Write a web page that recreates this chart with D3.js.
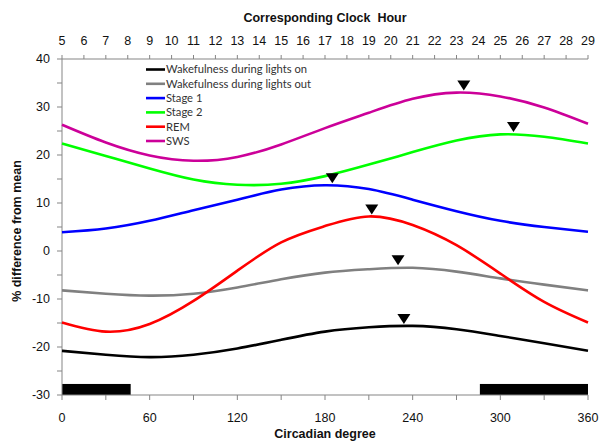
<!DOCTYPE html>
<html>
<head>
    <script src="https://cdnjs.cloudflare.com/ajax/libs/d3/7.8.5/d3.min.js"></script>
    <style>
        body { margin: 0; background: #fff; }
        svg { display: block; }
        .tick-label { font-family: "Liberation Sans", Arial, sans-serif; font-size: 12.5px; fill: #111; }
        .axis-title { font-family: "Liberation Sans", Arial, sans-serif; font-size: 12.5px; font-weight: bold; fill: #111; white-space: pre; }
        .legend-text { font-family: Lato, "Open Sans", sans-serif; font-size: 11.2px; fill: #333; }
    </style>
</head>
<body>
<svg id="chart"></svg>
<script>
    // circadian degrees sampled every 30
    const degrees = [0, 30, 60, 90, 120, 150, 180, 210, 240, 270, 300, 330, 360];

    const wakeLightsOn  = [-20.8, -21.6, -22.1, -21.6, -20.3, -18.5, -16.8, -15.9, -15.6, -16.3, -17.7, -19.2, -20.8];
    const wakeLightsOut = [-8.2, -8.9, -9.3, -8.9, -7.6, -5.9, -4.5, -3.8, -3.5, -4.3, -5.7, -7.0, -8.2];
    const stage1 = [3.9, 4.7, 6.3, 8.5, 10.7, 12.8, 13.7, 12.9, 10.7, 8.3, 6.3, 5.0, 4.0];
    const stage2 = [22.4, 19.8, 17.2, 14.9, 13.8, 14.0, 15.6, 18.0, 20.6, 23.0, 24.3, 23.8, 22.4];
    const rem    = [-14.9, -16.8, -15.2, -10.4, -4.1, 1.8, 5.2, 7.2, 5.4, 1.2, -4.7, -10.6, -14.9];
    const sws    = [26.3, 22.6, 19.9, 18.8, 19.6, 22.2, 25.6, 28.8, 31.7, 33.0, 32.2, 29.9, 26.5];

    const seriesNames = ["Wakefulness during lights on", "Wakefulness during lights out", "Stage 1", "Stage 2", "REM", "SWS"];
    const seriesColors = ["#000000", "#808080", "#0000ff", "#00ff00", "#ff0000", "#cc0099"];
    const seriesValues = [wakeLightsOn, wakeLightsOut, stage1, stage2, rem, sws];

    // acrophase markers (degree, value)
    const peakDegrees = [234, 230, 185, 309, 212, 275];
    const peakValues = [-15.6, -3.4, 13.7, 24.4, 7.2, 33.0];

    // lights-off periods
    const darkPeriods = [[0, 47], [286, 360]];

    const degreeTicks = [0, 30, 60, 90, 120, 150, 180, 210, 240, 270, 300, 330, 360];
    const degreeLabels = [0, 60, 120, 180, 240, 300, 360];
    const clockHours = d3.range(5, 30);
    const yTicks = [-30, -25, -20, -15, -10, -5, 0, 5, 10, 15, 20, 25, 30, 35, 40];
    const yLabels = [-30, -20, -10, 0, 10, 20, 30, 40];

    const width = 601, height = 441;
    const margin = {left: 62, right: 13, top: 59, bottom: 46};

    const svg = d3.select("#chart").attr("width", width).attr("height", height);

    const x = d3.scaleLinear().domain([0, 360]).range([margin.left, width - margin.right]);
    const xHour = d3.scaleLinear().domain([5, 29]).range([margin.left, width - margin.right]);
    const y = d3.scaleLinear().domain([-30, 40]).range([height - margin.bottom, margin.top]);

    const axisColor = "#858585";

    // dark bars
    svg.append("g").selectAll("rect")
        .data(darkPeriods)
        .enter().append("rect")
        .attr("x", d => x(d[0]))
        .attr("width", d => x(d[1]) - x(d[0]))
        .attr("y", y(-27.7))
        .attr("height", y(-30) - y(-27.7))
        .attr("fill", "#000");

    // left axis
    const gy = svg.append("g");
    gy.append("line")
        .attr("x1", x(0)).attr("x2", x(0))
        .attr("y1", y(-30)).attr("y2", y(40))
        .attr("stroke", axisColor);
    gy.selectAll("line.t").data(yTicks).enter().append("line")
        .attr("class", "t")
        .attr("x1", x(0) - 5).attr("x2", x(0))
        .attr("y1", d => y(d)).attr("y2", d => y(d))
        .attr("stroke", axisColor);
    gy.selectAll("text").data(yLabels).enter().append("text")
        .attr("class", "tick-label")
        .attr("x", x(0) - 12)
        .attr("y", d => y(d))
        .attr("dy", "0.35em")
        .attr("text-anchor", "end")
        .text(d => d);

    // bottom axis
    const gx = svg.append("g");
    gx.append("line")
        .attr("x1", x(0)).attr("x2", x(360))
        .attr("y1", y(-30)).attr("y2", y(-30))
        .attr("stroke", axisColor);
    gx.selectAll("line.t").data(degreeTicks).enter().append("line")
        .attr("class", "t")
        .attr("x1", d => x(d)).attr("x2", d => x(d))
        .attr("y1", y(-30)).attr("y2", y(-30) + 5)
        .attr("stroke", axisColor);
    gx.selectAll("text").data(degreeLabels).enter().append("text")
        .attr("class", "tick-label")
        .attr("x", d => x(d))
        .attr("y", y(-30) + 27)
        .attr("text-anchor", "middle")
        .text(d => d);

    // top axis (clock hour)
    const gt = svg.append("g");
    gt.append("line")
        .attr("x1", x(0)).attr("x2", x(360))
        .attr("y1", y(40)).attr("y2", y(40))
        .attr("stroke", axisColor);
    gt.selectAll("line.t").data(clockHours).enter().append("line")
        .attr("class", "t")
        .attr("x1", d => xHour(d)).attr("x2", d => xHour(d))
        .attr("y1", y(40)).attr("y2", y(40) - 4)
        .attr("stroke", axisColor);
    gt.selectAll("text").data(clockHours).enter().append("text")
        .attr("class", "tick-label")
        .attr("x", d => xHour(d))
        .attr("y", y(40) - 14)
        .attr("text-anchor", "middle")
        .text(d => d);

    // titles
    svg.append("text").attr("class", "axis-title")
        .attr("x", (x(0) + x(360)) / 2).attr("y", 22)
        .attr("text-anchor", "middle")
        .text("Corresponding Clock  Hour");
    svg.append("text").attr("class", "axis-title")
        .attr("x", (x(0) + x(360)) / 2).attr("y", 438)
        .attr("text-anchor", "middle")
        .text("Circadian degree");
    svg.append("text").attr("class", "axis-title")
        .attr("transform", "translate(21," + 231 + ") rotate(-90)")
        .attr("text-anchor", "middle")
        .text("% difference from mean");

    // curves
    const line = d3.line()
        .x((d, i) => x(degrees[i]))
        .y(d => y(d))
        .curve(d3.curveNatural);

    svg.append("g").selectAll("path")
        .data(seriesValues)
        .enter().append("path")
        .attr("d", d => line(d))
        .attr("fill", "none")
        .attr("stroke", (d, i) => seriesColors[i])
        .attr("stroke-width", 2.6);

    // peak markers
    svg.append("g").selectAll("path")
        .data(peakDegrees)
        .enter().append("path")
        .attr("transform", (d, i) => "translate(" + x(d) + "," + (y(peakValues[i]) - 2) + ")")
        .attr("d", "M-6.5,-10L6.5,-10L0,0Z")
        .attr("fill", "#000");

    // legend
    const legend = svg.append("g");
    const rows = legend.selectAll("g")
        .data(seriesNames)
        .enter().append("g")
        .attr("transform", (d, i) => "translate(146," + (69.5 + i * 14.3) + ")");
    rows.append("line")
        .attr("x1", 0).attr("x2", 19)
        .attr("stroke", (d, i) => seriesColors[i])
        .attr("stroke-width", 2.6);
    rows.append("text")
        .attr("class", "legend-text")
        .attr("x", 20)
        .attr("dy", "0.35em")
        .text(d => d);
</script>
</body>
</html>
